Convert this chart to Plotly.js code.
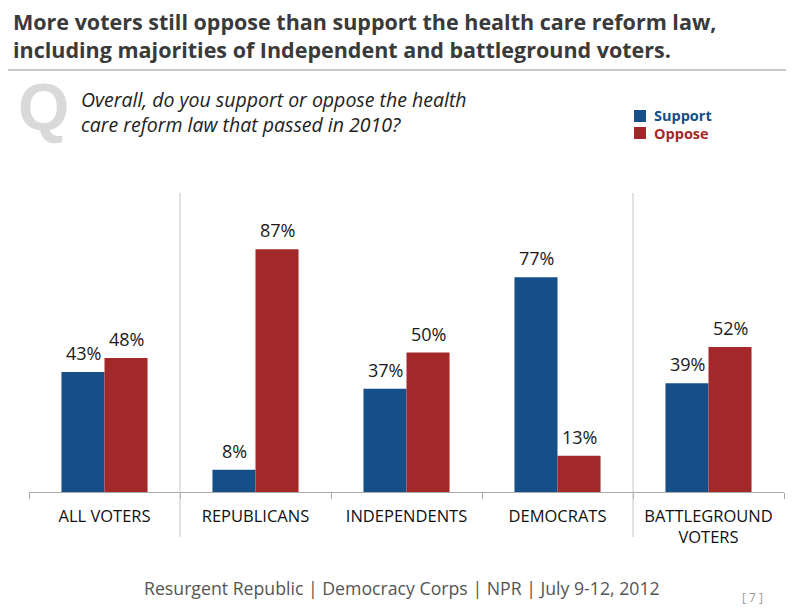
<!DOCTYPE html>
<html>
<head>
<meta charset="utf-8">
<script src="https://cdn.plot.ly/plotly-3.0.1.min.js"></script>
<style>html,body{margin:0;padding:0;background:#fff;}#chart{width:805px;height:616px;}</style>
</head>
<body>
<div id="chart"></div>
<script>
const categories = ["ALL VOTERS", "REPUBLICANS", "INDEPENDENTS", "DEMOCRATS", "BATTLEGROUND<br>VOTERS"];
const supportValues = [43, 8, 37, 77, 39];
const opposeValues = [48, 87, 50, 13, 52];
const seriesNames = ["Support", "Oppose"];

const W = 805, H = 616;
const L = 29, R = 784, B = 492, T = 213;
const px = x => (x - L) / (R - L);
const py = y => (B - y) / (B - T);

const blue = "#164f88";
const red = "#a3282a";
const FONT = "Open Sans, sans-serif";

const traces = [
  {type: "bar", name: seriesNames[0], x: categories, y: supportValues,
   marker: {color: blue}, hoverinfo: "none"},
  {type: "bar", name: seriesNames[1], x: categories, y: opposeValues,
   marker: {color: red}, hoverinfo: "none"}
];

const valueLabels = [];
categories.forEach((c, i) => {
  valueLabels.push({x: c, y: supportValues[i], xref: "x", yref: "y", text: supportValues[i] + "%",
    xshift: -21.5, yshift: 5, yanchor: "bottom", xanchor: "center", showarrow: false,
    font: {size: 18, color: "#1a1a1a", family: FONT}});
  valueLabels.push({x: c, y: opposeValues[i], xref: "x", yref: "y", text: opposeValues[i] + "%",
    xshift: 21.5, yshift: 5, yanchor: "bottom", xanchor: "center", showarrow: false,
    font: {size: 18, color: "#1a1a1a", family: FONT}});
});

const layout = {
  width: W, height: H,
  margin: {l: L, r: W - R, t: T, b: H - B, pad: 0},
  paper_bgcolor: "#fff", plot_bgcolor: "#fff",
  showlegend: false,
  barmode: "group", bargap: 0.43, bargroupgap: 0,
  font: {family: FONT, color: "#222"},
  xaxis: {
    type: "category", showline: true, linecolor: "#aaa", linewidth: 1,
    ticks: "outside", tickson: "boundaries", ticklen: 6, tickcolor: "#aaa",
    ticklabelstandoff: 9,
    tickfont: {size: 16.5, color: "#111", family: FONT},
    showgrid: false, zeroline: false, fixedrange: true
  },
  yaxis: {range: [0, 100], visible: false, showgrid: false, zeroline: false, fixedrange: true},
  shapes: [
    {type: "line", xref: "paper", yref: "paper", x0: px(8), x1: px(786), y0: py(70), y1: py(70),
     line: {color: "#c8c8c8", width: 2}},
    {type: "line", xref: "x", yref: "paper", x0: 0.5, x1: 0.5, y0: py(537), y1: py(193),
     line: {color: "#c4c4c4", width: 1}},
    {type: "line", xref: "x", yref: "paper", x0: 3.5, x1: 3.5, y0: py(537), y1: py(193),
     line: {color: "#c4c4c4", width: 1}},
    {type: "rect", xref: "paper", yref: "paper", x0: px(634), x1: px(646), y0: py(122), y1: py(110),
     fillcolor: blue, line: {width: 0}},
    {type: "rect", xref: "paper", yref: "paper", x0: px(634), x1: px(646), y0: py(139), y1: py(127),
     fillcolor: red, line: {width: 0}}
  ],
  annotations: [
    {text: "<b>More voters still oppose than support the health care reform law,<br>including majorities of Independent and battleground voters.</b>",
     xref: "paper", yref: "paper", x: px(11), y: py(5), xanchor: "left", yanchor: "top", align: "left",
     showarrow: false, font: {size: 21.5, color: "#3a3a3a", family: FONT}},
    {text: "<b>Q</b>", xref: "paper", yref: "paper", x: px(43), y: py(107), xanchor: "center", yanchor: "middle",
     showarrow: false, font: {size: 66, color: "#d9d9d9", family: "Liberation Sans, Arial, sans-serif"}},
    {text: "<i>Overall, do you support or oppose the health<br>care reform law that passed in 2010?</i>",
     xref: "paper", yref: "paper", x: px(79), y: py(84), xanchor: "left", yanchor: "top", align: "left",
     showarrow: false, font: {size: 19.5, color: "#222", family: FONT}},
    {text: "<b>" + seriesNames[0] + "</b>", xref: "paper", yref: "paper", x: px(652), y: py(116), xanchor: "left", yanchor: "middle",
     showarrow: false, font: {size: 14.5, color: blue, family: FONT}},
    {text: "<b>" + seriesNames[1] + "</b>", xref: "paper", yref: "paper", x: px(652), y: py(133), xanchor: "left", yanchor: "middle",
     showarrow: false, font: {size: 14.5, color: red, family: FONT}},
    {text: "Resurgent Republic | Democracy Corps | NPR | July 9-12, 2012", xref: "paper", yref: "paper",
     x: px(402), y: py(588), xanchor: "center", yanchor: "middle",
     showarrow: false, font: {size: 17.7, color: "#555", family: FONT}},
    {text: "[ 7 ]", xref: "paper", yref: "paper", x: px(752), y: py(597), xanchor: "center", yanchor: "middle",
     showarrow: false, font: {size: 12, color: "#999", family: FONT}}
  ].concat(valueLabels)
};

Plotly.newPlot("chart", traces, layout, {displayModeBar: false, staticPlot: true});
</script>
</body>
</html>
